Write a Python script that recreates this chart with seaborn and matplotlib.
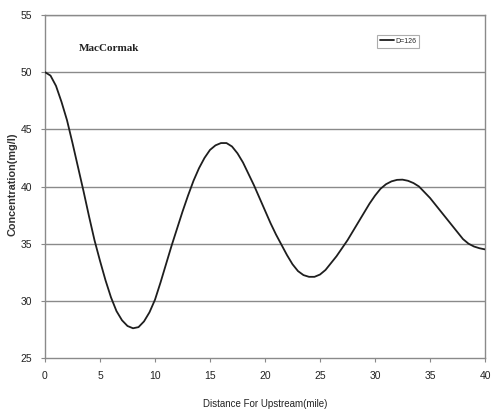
import matplotlib
matplotlib.use("Agg")
import matplotlib.pyplot as plt
import seaborn as sns
import pandas as pd

distance = [0, 0.5, 1, 1.5, 2, 2.5, 3, 3.5, 4, 4.5, 5, 5.5, 6, 6.5, 7, 7.5, 8, 8.5, 9, 9.5,
            10, 10.5, 11, 11.5, 12, 12.5, 13, 13.5, 14, 14.5, 15, 15.5, 16, 16.5, 17, 17.5, 18, 18.5, 19, 19.5,
            20, 20.5, 21, 21.5, 22, 22.5, 23, 23.5, 24, 24.5, 25, 25.5, 26, 26.5, 27, 27.5, 28, 28.5, 29, 29.5,
            30, 30.5, 31, 31.5, 32, 32.5, 33, 33.5, 34, 34.5, 35, 35.5, 36, 36.5, 37, 37.5, 38, 38.5, 39, 39.5, 40]
concentration = [50.0, 49.7, 48.8, 47.4, 45.8, 43.8, 41.7, 39.6, 37.4, 35.3, 33.5, 31.8, 30.3, 29.1, 28.3, 27.8, 27.6, 27.7, 28.2, 29.0,
                 30.1, 31.6, 33.2, 34.8, 36.3, 37.8, 39.2, 40.5, 41.6, 42.5, 43.2, 43.6, 43.8, 43.8, 43.5, 42.9, 42.1, 41.1, 40.1, 39.0,
                 37.9, 36.8, 35.8, 34.9, 34.0, 33.2, 32.6, 32.25, 32.1, 32.1, 32.3, 32.7, 33.3, 33.9, 34.6, 35.3, 36.1, 36.9, 37.7, 38.5,
                 39.2, 39.8, 40.2, 40.45, 40.58, 40.6, 40.5, 40.3, 40.0, 39.5, 39.0, 38.4, 37.8, 37.2, 36.6, 36.0, 35.4, 35.0, 34.75, 34.6, 34.5]
series_label = "D=126"
title_text = "MacCormak"
x_ticks = [0, 5, 10, 15, 20, 25, 30, 35, 40]
y_ticks = [25, 30, 35, 40, 45, 50, 55]

df = pd.DataFrame({"Distance": distance, "Concentration": concentration, "series": series_label})

sns.set_theme(style="white")
plt.rcParams['font.family'] = ['Liberation Sans', 'DejaVu Sans']

fig = plt.figure(figsize=(4.95, 4.11), dpi=100)
ax = fig.add_axes([45/495, 53/411, 440/495, 343/411])

for yv in y_ticks[1:]:
    ax.axhline(yv, color="#8a8a8a", lw=1.0, zorder=1)

sns.lineplot(data=df, x="Distance", y="Concentration", hue="series", palette=["#1e1e1e"],
             linewidth=1.3, ax=ax, zorder=3)

ax.set_xlim(0, 40)
ax.set_ylim(25, 55)
ax.set_xticks(x_ticks)
ax.set_yticks(y_ticks)
ax.tick_params(axis="both", direction="out", length=3, width=0.8, color="#888888",
               labelsize=7.5, labelcolor="#222222", pad=6, bottom=True, left=True)
for s in ["left", "bottom", "right", "top"]:
    ax.spines[s].set_visible(True)
    ax.spines[s].set_color("#8a8a8a")
    ax.spines[s].set_linewidth(1.0)

ax.set_xlabel("Distance For Upstream(mile)", fontsize=7, color="#222222", labelpad=13)
ax.set_ylabel("Concentration(mg/l)", fontsize=7.8, color="#333333", fontweight="bold", labelpad=3)
ax.yaxis.set_label_coords(-27/440, (358-184)/343)

ax.text(3.1, 52.1, title_text, fontsize=8, fontweight="bold", family=["Liberation Serif", "DejaVu Serif"],
        color="#222222", va="center", ha="left")

leg = ax.legend(loc="upper left", bbox_to_anchor=((377-45)/440, (358-35)/343), fontsize=5,
                frameon=True, fancybox=False, handlelength=2.0, handletextpad=0.2,
                borderpad=0.4, borderaxespad=0)
leg.get_frame().set_edgecolor("#999999")
leg.get_frame().set_linewidth(0.8)
leg.set_title(None)

fig.savefig("out.png", dpi=100)
